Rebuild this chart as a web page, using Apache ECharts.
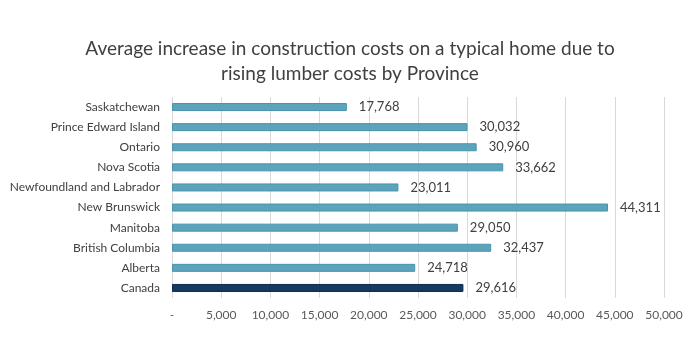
<!DOCTYPE html>
<html>
<head>
<meta charset="utf-8">
<script src="https://cdn.jsdelivr.net/npm/echarts@6/dist/echarts.min.js"></script>
<style>
  html, body { margin: 0; padding: 0; background: #fff; }
  #chart { width: 700px; height: 350px; }
</style>
</head>
<body>
<div id="chart"></div>
<script>
  // bottom to top, as the category axis draws them
  var provinces = ['Canada', 'Alberta', 'British Columbia', 'Manitoba', 'New Brunswick',
    'Newfoundland and Labrador', 'Nova Scotia', 'Ontario', 'Prince Edward Island', 'Saskatchewan'];
  var costs = [29616, 24718, 32437, 29050, 44311, 23011, 33662, 30960, 30032, 17768];
  var ticks = [0, 5000, 10000, 15000, 20000, 25000, 30000, 35000, 40000, 45000, 50000];

  var fmt = function (v) { return v === 0 ? '-' : v.toLocaleString('en-US'); };

  var chart = echarts.init(document.getElementById('chart'));
  chart.setOption({
    animation: false,
    textStyle: { fontFamily: 'Lato' },
    title: {
      text: 'Average increase in construction costs on a typical home due to\nrising lumber costs by Province',
      left: 'center',
      top: 31,
      textStyle: { fontFamily: 'Lato', fontSize: 19, fontWeight: 'normal', color: '#404040', lineHeight: 25 }
    },
    grid: { left: 172, right: 36, top: 97, bottom: 52, containLabel: false },
    xAxis: {
      type: 'value',
      min: ticks[0],
      max: ticks[ticks.length - 1],
      interval: 5000,
      axisLine: { show: false },
      axisTick: { show: false },
      splitLine: { lineStyle: { color: '#d9d9d9', width: 1 } },
      axisLabel: { color: '#595959', fontSize: 12, margin: 11, formatter: fmt }
    },
    yAxis: {
      type: 'category',
      data: provinces,
      axisLine: { show: false },
      axisTick: { show: false },
      axisLabel: { color: '#404040', fontSize: 12, margin: 12 }
    },
    series: [{
      type: 'bar',
      data: costs.map(function (v, i) {
        return i === 0
          ? { value: v, itemStyle: { color: '#143A62', borderColor: '#0B2B4E', borderWidth: 1 } }
          : v;
      }),
      barWidth: 8,
      itemStyle: { color: '#5BA4BC', borderColor: '#4893AB', borderWidth: 1 },
      label: {
        show: true,
        position: 'right',
        distance: 12,
        color: '#404040',
        fontSize: 13,
        formatter: function (p) { return fmt(p.value); }
      }
    }]
  });
</script>
</body>
</html>
